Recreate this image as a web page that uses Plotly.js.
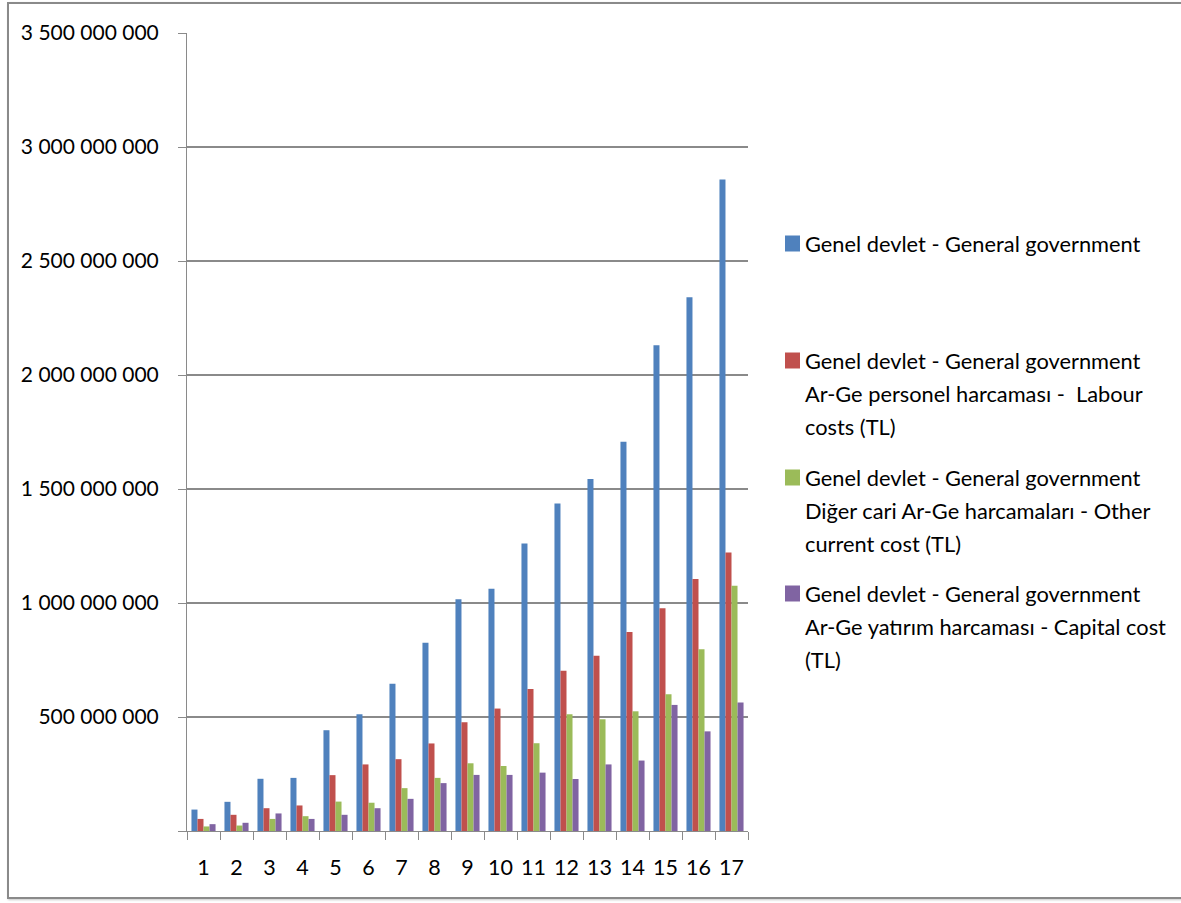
<!DOCTYPE html>
<html>
<head>
<meta charset="utf-8">
<script src="https://cdn.plot.ly/plotly-3.0.1.min.js"></script>
<style>
  html, body { margin: 0; padding: 0; background: #ffffff; }
  #wrap { position: relative; width: 1181px; height: 903px; }
  #chart { position: absolute; left: 0; top: 0; width: 1181px; height: 903px; }
  #frame {
    position: absolute; left: 7px; top: 2px; width: 1180px; height: 897px;
    border: 2px solid #8a8a8a; box-shadow: 1px 1px 2px #c8c8c8;
    pointer-events: none; box-sizing: border-box;
  }
</style>
</head>
<body>
<div id="wrap">
  <div id="chart"></div>
  <div id="frame"></div>
</div>
<script>
// Years 1..17 on the category axis
const categories = ['1','2','3','4','5','6','7','8','9','10','11','12','13','14','15','16','17'];

// General government R&D expenditure (TL)
const totalGov = [94000000, 128000000, 229000000, 233000000, 442000000, 512000000, 646000000, 826000000,
  1016000000, 1063000000, 1261000000, 1436000000, 1544000000, 1707000000, 2131000000, 2341000000, 2858000000];
const labourCost = [53000000, 71000000, 100000000, 112000000, 245000000, 292000000, 315000000, 384000000,
  477000000, 537000000, 623000000, 703000000, 769000000, 873000000, 977000000, 1105000000, 1222000000];
const otherCurrentCost = [20000000, 24000000, 53000000, 65000000, 129000000, 124000000, 188000000, 233000000,
  297000000, 285000000, 385000000, 512000000, 490000000, 525000000, 600000000, 797000000, 1076000000];
const capitalCost = [30000000, 36000000, 77000000, 53000000, 71000000, 100000000, 141000000, 210000000,
  246000000, 246000000, 256000000, 228000000, 292000000, 309000000, 553000000, 437000000, 564000000];

// Legend text, one entry per series, split into lines
const seriesNames = [
  ['Genel devlet - General government'],
  ['Genel devlet - General government', 'Ar-Ge personel harcaması -  Labour', 'costs (TL)'],
  ['Genel devlet - General government', 'Diğer cari Ar-Ge harcamaları - Other', 'current cost (TL)'],
  ['Genel devlet - General government', 'Ar-Ge yatırım harcaması - Capital cost', '(TL)']
];
const seriesColors = ['#4F81BD', '#C0504D', '#9BBB59', '#8064A2'];
const seriesValues = [totalGov, labourCost, otherCurrentCost, capitalCost];

// Value axis ticks (zero left unlabelled)
const yTickVals = [0, 500000000, 1000000000, 1500000000, 2000000000, 2500000000, 3000000000, 3500000000];
const yTickText = ['', '500 000 000', '1 000 000 000', '1 500 000 000', '2 000 000 000', '2 500 000 000', '3 000 000 000', '3 500 000 000'];

const W = 1181, H = 903;
const M = { l: 187, r: 433, t: 33, b: 72 };
const plotW = W - M.l - M.r, plotH = H - M.t - M.b;
const px2x = px => (px - M.l) / plotW;
const px2y = py => (H - M.b - py) / plotH;

const traces = seriesValues.map((vals, i) => ({
  type: 'bar',
  x: categories,
  y: vals,
  name: seriesNames[i].join(' '),
  marker: { color: seriesColors[i], line: { width: 0 } },
  hoverinfo: 'x+y'
}));

// Legend drawn as swatches and text lines at the right of the plot
const legendTop = [243, 360, 477, 593];
const lineStep = 33.4;
const shapes = [];
const annotations = [];
seriesNames.forEach((lines, i) => {
  const y0 = legendTop[i];
  shapes.push({
    type: 'rect', xref: 'paper', yref: 'paper',
    x0: px2x(785), x1: px2x(800), y0: px2y(y0 - 7.5), y1: px2y(y0 + 8.5),
    fillcolor: seriesColors[i], line: { width: 0 }
  });
  lines.forEach((t, k) => {
    annotations.push({
      xref: 'paper', yref: 'paper',
      x: px2x(803), y: px2y(y0 + k * lineStep),
      xanchor: 'left', yanchor: 'middle',
      text: t, showarrow: false,
      font: { family: 'Lato, sans-serif', size: 21.8, color: '#000000' }
    });
  });
});

const layout = {
  width: W, height: H,
  margin: M,
  paper_bgcolor: '#ffffff',
  plot_bgcolor: '#ffffff',
  barmode: 'group',
  bargap: 0.27,
  bargroupgap: 0,
  showlegend: false,
  font: { family: 'Lato, sans-serif', size: 21, color: '#000000' },
  xaxis: {
    type: 'category',
    tickson: 'boundaries',
    tickangle: 0,
    ticks: 'outside', ticklen: 8, tickwidth: 1, tickcolor: '#8a8a8a',
    showline: true, linecolor: '#8a8a8a', linewidth: 1,
    showgrid: false, zeroline: false,
    tickfont: { family: 'Lato, sans-serif', size: 21.5, color: '#000000' },
    ticklabelstandoff: 17
  },
  yaxis: {
    range: [0, 3500000000],
    tickmode: 'array', tickvals: yTickVals, ticktext: yTickText,
    ticks: 'outside', ticklen: 8, tickwidth: 1, tickcolor: '#8a8a8a',
    showline: true, linecolor: '#8a8a8a', linewidth: 1,
    showgrid: true, gridcolor: '#8a8a8a', gridwidth: 1.5,
    zeroline: false,
    tickfont: { family: 'Lato, sans-serif', size: 21, color: '#000000' },
    ticklabelstandoff: 15
  },
  shapes: shapes,
  annotations: annotations
};

Plotly.newPlot('chart', traces, layout, { displayModeBar: false, staticPlot: true });
</script>
</body>
</html>
